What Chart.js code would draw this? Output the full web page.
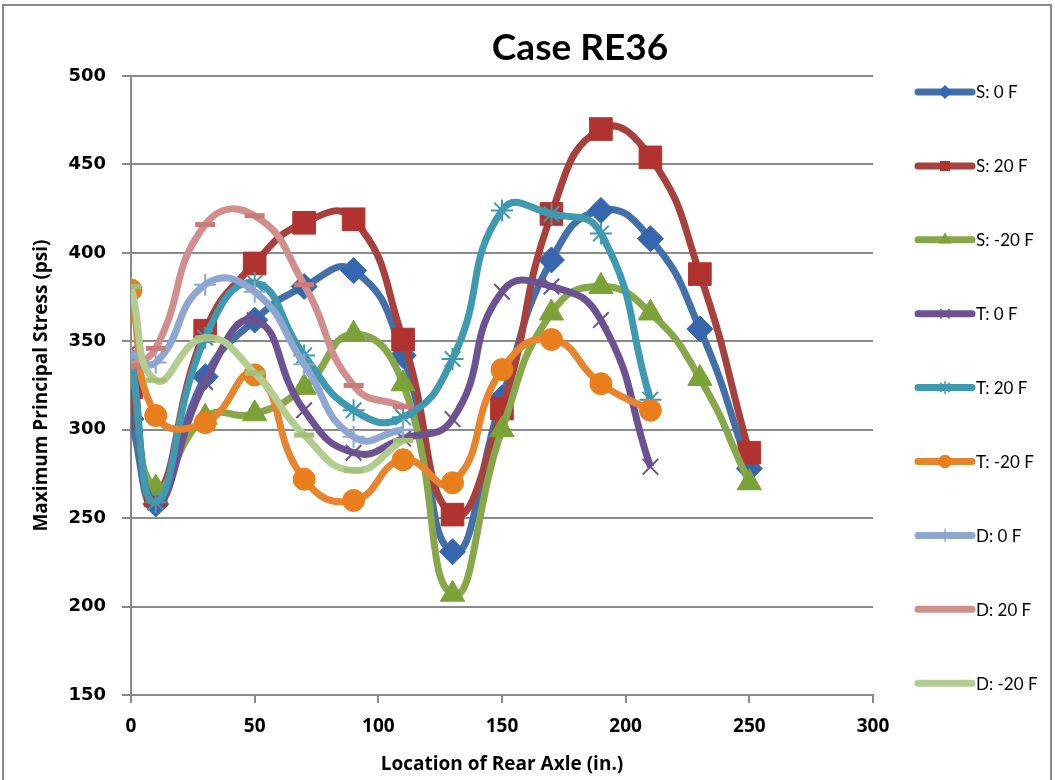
<!DOCTYPE html>
<html>
<head>
<meta charset="utf-8">
<script src="https://cdn.jsdelivr.net/npm/chart.js@4.4.0/dist/chart.umd.min.js"></script>
<style>
  html, body { margin: 0; padding: 0; background: #fff; }
  .chart-container { position: relative; width: 1055px; height: 780px; }
</style>
</head>
<body>
<div class="chart-container"><canvas id="myCanvas"></canvas></div>
<script>
const chartTitle = "Case RE36";
const xTitle = "Location of Rear Axle (in.)";
const yTitle = "Maximum Principal Stress (psi)";

const seriesNames = ["S: 0 F", "S: 20 F", "S: -20 F", "T: 0 F", "T: 20 F", "T: -20 F", "D: 0 F", "D: 20 F", "D: -20 F"];

const xS = [0, 10, 30, 50, 70, 90, 110, 130, 150, 170, 190, 210, 230, 250];
const xT = [0, 10, 30, 50, 70, 90, 110, 130, 150, 170, 190, 210];
const xD = [0, 10, 30, 50, 70, 90, 110];

const s0 = [306, 258, 330, 362, 381, 390, 342, 231, 318, 396, 424, 408, 357, 278];
const s20 = [324, 263, 356, 394, 417, 419, 351, 252, 312, 422, 470, 454, 388, 287];
const sMinus20 = [338, 267, 307, 309, 324, 354, 326, 207, 300, 366, 381, 366, 329, 270];
const t0 = [345, 259, 327, 362, 311, 287, 295, 306, 378, 381, 362, 279];
const t20 = [341, 259, 352, 383, 342, 311, 307, 340, 424, 422, 411, 317];
const tMinus20 = [379, 308, 304, 331, 272, 260, 283, 270, 334, 351, 326, 311];
const d0 = [343, 338, 382, 378, 337, 296, 300];
const d20 = [336, 346, 416, 421, 382, 325, 313];
const dMinus20 = [381, 328, 352, 332, 297, 277, 294];

const xTicks = [0, 50, 100, 150, 200, 250, 300];
const yTicks = [150, 200, 250, 300, 350, 400, 450, 500];

function toPoints(xs, ys) {
  return xs.map((x, i) => ({ x: x, y: ys[i] }));
}

const styles = [
  { line: "#4470A9", fill: "#3566AE", point: "rectRot", r: 13, bw: 1 },
  { line: "#A7413E", fill: "#B0332F", point: "rect", r: 16, bw: 1 },
  { line: "#86A74A", fill: "#7BA236", point: "triangle", r: 14, bw: 1 },
  { line: "#6C5291", fill: "#6C5291", point: "crossRot", r: 11, bw: 2 },
  { line: "#3E99B1", fill: "#3E99B1", point: "star", r: 11, bw: 2 },
  { line: "#E7852F", fill: "#E97E1C", point: "circle", r: 11, bw: 1 },
  { line: "#8DA7D0", fill: "#8DA7D0", point: "cross", r: 11, bw: 2 },
  { line: "#D28E8D", fill: "#C97B7A", point: "line", r: 10, bw: 5 },
  { line: "#B3CC90", fill: "#A3C07A", point: "line", r: 10, bw: 5 },
];

const seriesData = [
  toPoints(xS, s0), toPoints(xS, s20), toPoints(xS, sMinus20),
  toPoints(xT, t0), toPoints(xT, t20), toPoints(xT, tMinus20),
  toPoints(xD, d0), toPoints(xD, d20), toPoints(xD, dMinus20),
];

const datasets = seriesData.map((pts, i) => ({
  label: seriesNames[i],
  data: pts,
  borderColor: styles[i].line,
  backgroundColor: styles[i].fill,
  borderWidth: 7,
  tension: 0.5,
  pointStyle: styles[i].point,
  pointRadius: styles[i].r,
  pointBorderWidth: styles[i].bw,
  pointBorderColor: styles[i].fill,
  pointBackgroundColor: styles[i].fill,
  order: seriesNames.length - i,
}));

// title, frame and legend drawn by hand to match the Excel layout
const excelDecor = {
  id: "excelDecor",
  afterDraw(chart) {
    const ctx = chart.ctx;
    ctx.save();
    ctx.strokeStyle = "#8a8a8a";
    ctx.lineWidth = 2;
    ctx.strokeRect(3, 5, 1048, 790);

    ctx.fillStyle = "#000";
    ctx.font = "bold 37px Lato, sans-serif";
    ctx.textAlign = "center";
    ctx.textBaseline = "middle";
    ctx.fillText(chartTitle, 580, 48);

    chart.data.datasets.forEach((ds, i) => {
      const y = 92 + i * 73.9;
      ctx.strokeStyle = ds.borderColor;
      ctx.lineWidth = 7;
      ctx.lineCap = "round";
      ctx.beginPath();
      ctx.moveTo(918, y);
      ctx.lineTo(972, y);
      ctx.stroke();
      ctx.fillStyle = ds.pointBackgroundColor;
      ctx.strokeStyle = ds.pointBorderColor;
      ctx.lineWidth = 1.5;
      if (ds.pointStyle !== "line") {
        Chart.helpers.drawPoint(ctx, { pointStyle: ds.pointStyle, radius: 6, rotation: 0, borderWidth: 1.5 }, 945, y);
      }
      ctx.fillStyle = "#000";
      ctx.font = "17px Lato, sans-serif";
      ctx.textAlign = "left";
      ctx.textBaseline = "middle";
      ctx.fillText(ds.label, 976, y + 1);
    });
    ctx.restore();
  },
};

const boldFont = { family: "'Open Sans', sans-serif", size: 19, weight: "bold" };

const config = {
  type: "line",
  data: { datasets: datasets },
  options: {
    responsive: true,
    maintainAspectRatio: false,
    animation: false,
    layout: { padding: { top: 76, right: 182, left: 0, bottom: 0 } },
    plugins: {
      legend: { display: false },
      title: { display: false },
      tooltip: { enabled: false },
    },
    scales: {
      x: {
        type: "linear",
        min: 0,
        max: 300,
        afterBuildTicks: (s) => { s.ticks = xTicks.map((v) => ({ value: v })); },
        afterFit: (s) => { s.height = 85; },
        ticks: {
          color: "#000",
          font: boldFont,
          padding: 12,
        },
        grid: { drawOnChartArea: false, drawTicks: true, tickLength: 8, color: "#8a8a8a", lineWidth: 2 },
        border: { color: "#8a8a8a", width: 2 },
        title: {
          display: true,
          text: xTitle,
          color: "#000",
          font: boldFont,
          padding: { top: 0, bottom: 4 },
        },
      },
      y: {
        min: 150,
        max: 500,
        afterBuildTicks: (s) => { s.ticks = yTicks.map((v) => ({ value: v })); },
        afterFit: (s) => { s.width = 131; },
        ticks: {
          color: "#000",
          font: { family: "'DejaVu Sans', sans-serif", size: 18, weight: "bold" },
          padding: 16,
        },
        grid: { color: "#8a8a8a", lineWidth: 2, tickLength: 9 },
        border: { color: "#8a8a8a", width: 2 },
        title: {
          display: true,
          text: yTitle,
          color: "#000",
          font: boldFont,
          padding: { top: 30, bottom: 0 },
        },
      },
    },
  },
  plugins: [excelDecor],
};

const canvas = document.querySelector("#myCanvas");
const myChart = new Chart(canvas, config);
</script>
</body>
</html>
